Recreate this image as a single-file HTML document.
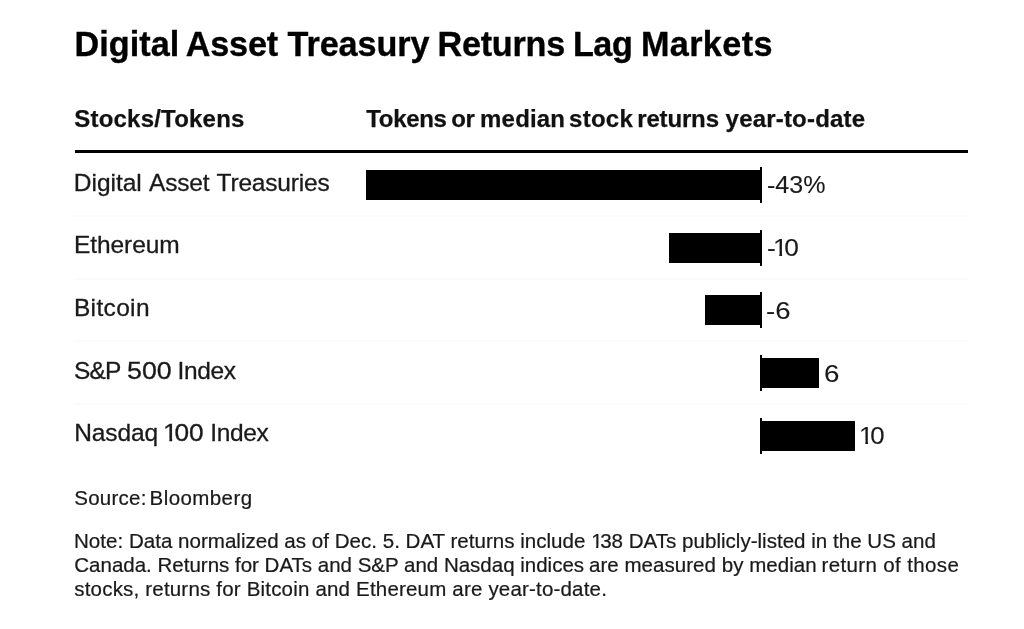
<!DOCTYPE html>
<html>
<head>
<meta charset="utf-8">
<style>
html,body{margin:0;padding:0;background:#fff;}
.w,.t{-webkit-text-stroke:0.3px #1a1a1a;}
body{will-change:transform;width:1024px;height:629px;position:relative;overflow:hidden;font-family:"Liberation Sans",sans-serif;color:#1a1a1a;}
.t{position:absolute;white-space:nowrap;line-height:1;}
.w{position:absolute;white-space:nowrap;line-height:1;}
.tt{-webkit-text-stroke:0.35px #000;}
.th{-webkit-text-stroke:0.25px #111;}
.fs{-webkit-text-stroke:0.22px #1a1a1a;}
.vs{-webkit-text-stroke:0.1px #1a1a1a;}
.bar{position:absolute;background:#000;height:30px;}
.axis{position:absolute;left:760px;width:2px;background:#000;height:36px;}
.sep{position:absolute;left:74px;width:894px;height:2px;background:#fbfbfb;}
.rule{position:absolute;left:75px;top:150px;width:893px;height:3px;background:#000;}
.foot{left:74px;font-size:20.5px;-webkit-text-stroke:0.22px #1a1a1a;}
.om{margin-left:-0.11em;}.one{display:inline-block;letter-spacing:-0.12em;clip-path:polygon(-0.2em -0.2em,1.2em -0.2em,1.2em 0.70em,0.35em 0.70em,0.35em 1.2em,0.243em 1.2em,0.243em 0.70em,-0.2em 0.70em);}
</style>
</head>
<body>
<div class="w tt" style="left:74.60px;top:27.40px;font-size:34.2px;font-weight:700;color:#000;letter-spacing:0.017px">Digital</div>
<div class="w tt" style="left:185.80px;top:27.40px;font-size:34.2px;font-weight:700;color:#000;letter-spacing:-0.200px">Asset</div>
<div class="w tt" style="left:287.50px;top:27.40px;font-size:34.2px;font-weight:700;color:#000;letter-spacing:-0.086px">Treasury</div>
<div class="w tt" style="left:437.50px;top:27.40px;font-size:34.2px;font-weight:700;color:#000;letter-spacing:-0.250px">Returns</div>
<div class="w tt" style="left:572.90px;top:27.40px;font-size:34.2px;font-weight:700;color:#000;letter-spacing:-0.400px">Lag</div>
<div class="w tt" style="left:640.90px;top:27.40px;font-size:34.2px;font-weight:700;color:#000;letter-spacing:0.383px">Markets</div>
<div class="w th" style="left:74.25px;top:106.50px;font-size:24px;font-weight:700;color:#111;letter-spacing:0.208px">Stocks/Tokens</div>
<div class="w th" style="left:366.30px;top:106.50px;font-size:24px;font-weight:700;color:#111;letter-spacing:-0.320px">Tokens</div>
<div class="w th" style="left:451.20px;top:106.50px;font-size:24px;font-weight:700;color:#111;letter-spacing:-0.300px">or</div>
<div class="w th" style="left:480.10px;top:106.50px;font-size:24px;font-weight:700;color:#111;letter-spacing:0.180px">median</div>
<div class="w th" style="left:569.10px;top:106.50px;font-size:24px;font-weight:700;color:#111;letter-spacing:0.250px">stock</div>
<div class="w th" style="left:637.20px;top:106.50px;font-size:24px;font-weight:700;color:#111;letter-spacing:-0.150px">returns</div>
<div class="w th" style="left:725.60px;top:106.50px;font-size:24px;font-weight:700;color:#111;letter-spacing:0.191px">year-to-date</div>
<div class="w" style="left:73.80px;top:170.66px;font-size:24.5px;font-weight:400;color:#1a1a1a;letter-spacing:-0.017px">Digital</div>
<div class="w" style="left:149.10px;top:170.66px;font-size:24.5px;font-weight:400;color:#1a1a1a;letter-spacing:-0.225px">Asset</div>
<div class="w" style="left:216.60px;top:170.66px;font-size:24.5px;font-weight:400;color:#1a1a1a;letter-spacing:-0.189px">Treasuries</div>
<div class="w" style="left:74.10px;top:233.33px;font-size:24.5px;font-weight:400;color:#1a1a1a;letter-spacing:-0.100px">Ethereum</div>
<div class="w" style="left:73.90px;top:295.99px;font-size:24.5px;font-weight:400;color:#1a1a1a;letter-spacing:0.350px">Bitcoin</div>
<div class="w" style="left:74.10px;top:358.66px;font-size:24.5px;font-weight:400;color:#1a1a1a;letter-spacing:-0.950px">S&amp;P</div>
<div class="w" style="left:126.51px;top:358.66px;font-size:24.5px;font-weight:400;color:#1a1a1a;transform:scaleX(1.0923);transform-origin:0 0">500</div>
<div class="w" style="left:177.50px;top:358.66px;font-size:24.5px;font-weight:400;color:#1a1a1a;letter-spacing:-0.350px">Index</div>
<div class="w" style="left:74.20px;top:421.33px;font-size:24.5px;font-weight:400;color:#1a1a1a;letter-spacing:-0.080px">Nasdaq</div>
<div class="w" style="left:162.86px;top:421.33px;font-size:24.5px;font-weight:400;color:#1a1a1a;transform:scaleX(1.0714);transform-origin:0 0"><span class="one">1</span>00</div>
<div class="w" style="left:210.30px;top:421.33px;font-size:24.5px;font-weight:400;color:#1a1a1a;letter-spacing:-0.350px">Index</div>
<div class="w vs" style="left:766.86px;top:172.90px;font-size:24px;font-weight:400;color:#1a1a1a;transform:scaleX(1.0444);transform-origin:0 0">-43%</div>
<div class="w vs" style="left:766.50px;top:236.47px;font-size:24px;font-weight:400;color:#1a1a1a;transform:scaleX(1.0963);transform-origin:0 0">-<span class="one om">1</span>0</div>
<div class="w vs" style="left:766.45px;top:299.13px;font-size:24px;font-weight:400;color:#1a1a1a;transform:scaleX(1.1474);transform-origin:0 0">-6</div>
<div class="w vs" style="left:823.55px;top:361.80px;font-size:24px;font-weight:400;color:#1a1a1a;transform:scaleX(1.1545);transform-origin:0 0">6</div>
<div class="w vs" style="left:858.95px;top:423.77px;font-size:24px;font-weight:400;color:#1a1a1a;transform:scaleX(1.0762);transform-origin:0 0"><span class="one">1</span>0</div>
<div class="w fs" style="left:74.20px;top:487.60px;font-size:20.5px;font-weight:400;color:#1a1a1a;letter-spacing:0.267px">Source:</div>
<div class="w fs" style="left:149.60px;top:487.60px;font-size:20.5px;font-weight:400;color:#1a1a1a;letter-spacing:0.413px">Bloomberg</div>
<div class="w fs" style="left:73.79px;top:531.20px;font-size:20.5px;font-weight:400;color:#1a1a1a;transform:scaleX(1.0034);transform-origin:0 0">Note: Data normalized as of Dec. 5. DAT returns include <span class="one">1</span>38 DATs publicly-listed in the US and</div>
<div class="w fs" style="left:74.30px;top:554.90px;font-size:20.5px;font-weight:400;color:#1a1a1a">Canada. Returns for DATs and S&amp;P and Nasdaq indices</div>
<div class="w fs" style="left:589.00px;top:554.90px;font-size:20.5px;font-weight:400;color:#1a1a1a;letter-spacing:0.043px">are measured by median</div>
<div class="w fs" style="left:821.50px;top:554.90px;font-size:20.5px;font-weight:400;color:#1a1a1a;letter-spacing:0.364px">return of those</div>
<div class="w fs" style="left:74.30px;top:578.60px;font-size:20.5px;font-weight:400;color:#1a1a1a;letter-spacing:0.188px">stocks, returns for Bitcoin and Ethereum are year-to-date.</div>
<div class="rule"></div>
<div class="bar" style="left:366px;width:394.0px;top:170.00px"></div>
<div class="axis" style="top:167.00px"></div>
<div class="sep" style="top:215.00px"></div>
<div class="bar" style="left:669px;width:91.0px;top:232.67px"></div>
<div class="axis" style="top:229.67px"></div>
<div class="sep" style="top:277.67px"></div>
<div class="bar" style="left:705.3px;width:54.7px;top:295.33px"></div>
<div class="axis" style="top:292.33px"></div>
<div class="sep" style="top:340.33px"></div>
<div class="bar" style="left:760px;width:59.0px;top:358.00px"></div>
<div class="axis" style="top:355.00px"></div>
<div class="sep" style="top:403.00px"></div>
<div class="bar" style="left:760px;width:95.4px;top:420.67px"></div>
<div class="axis" style="top:417.67px"></div>
</body>
</html>
